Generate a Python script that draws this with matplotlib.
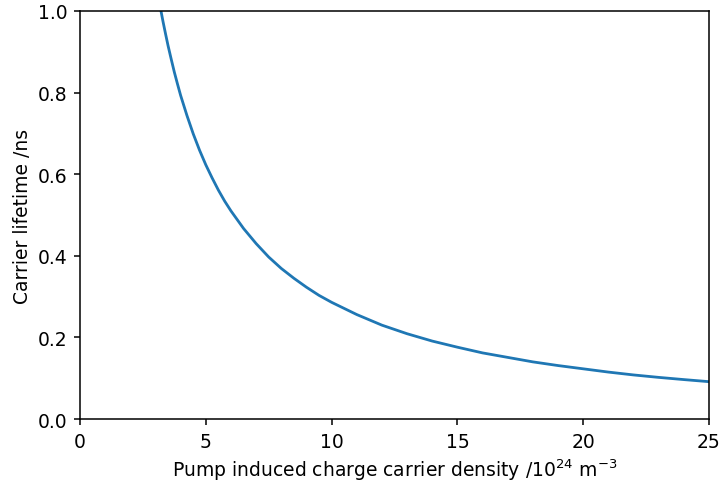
import matplotlib
matplotlib.use('Agg')
import matplotlib.pyplot as plt

# values
density = [3.1, 3.2, 3.3, 3.4, 3.5, 3.625, 3.75, 3.875, 4.0, 4.25, 4.5, 4.75,
           5.0, 5.25, 5.5, 5.75, 6.0, 6.5, 7.0, 7.5, 8.0, 8.5, 9.0, 9.5, 10.0,
           11.0, 12.0, 13.0, 14.0, 15.0, 16.0, 17.0, 18.0, 19.0,
           20.0, 21.0, 22.0, 23.0, 24.0, 25.0]
lifetime = [1.041, 1.006, 0.974, 0.944, 0.915, 0.882, 0.850, 0.821, 0.793,
            0.744, 0.699, 0.659, 0.623, 0.591, 0.561, 0.534, 0.510, 0.467,
            0.430, 0.397, 0.369, 0.345, 0.323, 0.303, 0.286, 0.256, 0.230,
            0.209, 0.191, 0.176, 0.162, 0.151, 0.140, 0.131, 0.123, 0.115,
            0.108, 0.102, 0.0966, 0.0915]

plt.rcParams['font.size'] = 13.5
plt.rcParams['axes.linewidth'] = 1.1

fig = plt.figure(figsize=(7.23, 4.85), dpi=100)
ax = fig.add_axes([80 / 723, 1 - 420 / 485, 629 / 723, 408 / 485])
ax.plot(density, lifetime, color='tab:blue', linewidth=2.0)
ax.set_xlim(0, 25)
ax.set_ylim(0, 1.0)
ax.set_xlabel(r'Pump induced charge carrier density /10$^{24}$ m$^{-3}$')
ax.set_ylabel('Carrier lifetime /ns')
ax.tick_params(length=4.6, width=1.1, pad=4.6)
fig.savefig('out.png', dpi=100)
